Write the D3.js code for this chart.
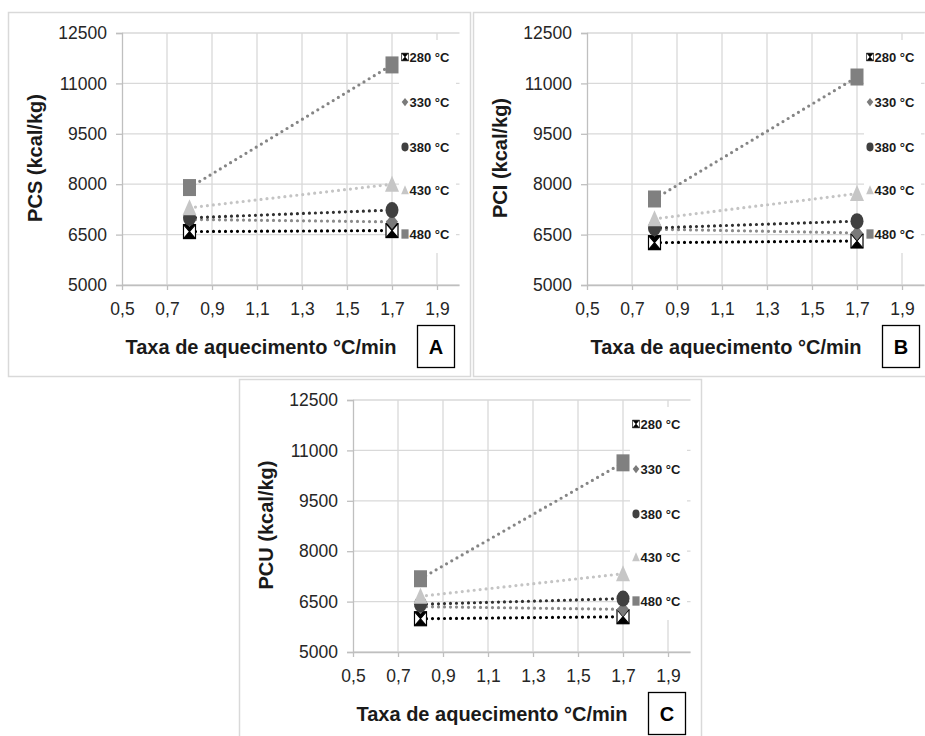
<!DOCTYPE html>
<html><head><meta charset="utf-8">
<script src="https://cdn.jsdelivr.net/npm/d3@7"></script>
<style>
body{margin:0;background:#fff}
svg{display:block;font-family:"Liberation Sans",Arial,sans-serif}
</style>
</head><body>
<svg id="fig" width="925" height="736"></svg>
<script>
// Heating rates (°C/min) and final temperatures
const heatingRates = [0.8, 1.7];
const temperatures = ["280 °C", "330 °C", "380 °C", "430 °C", "480 °C"];
// Calorific values (kcal/kg), one [0.8, 1.7] pair per temperature
const pcsValues = [[6590, 6620], [6950, 6880], [7000, 7230], [7300, 8000], [7900, 11550]];
const pciValues = [[6260, 6310], [6660, 6550], [6700, 6900], [6970, 7720], [7560, 11190]];
const pcuValues = [[5990, 6050], [6350, 6270], [6420, 6590], [6660, 7330], [7180, 10630]];
const yTicks = [5000, 6500, 8000, 9500, 11000, 12500];
const xTicks = [0.5, 0.7, 0.9, 1.1, 1.3, 1.5, 1.7, 1.9];
const panelLetters = ["A", "B", "C"];
const yTitles = ["PCS (kcal/kg)", "PCI (kcal/kg)", "PCU (kcal/kg)"];

const panels = [
  {values: pcsValues, letter: panelLetters[0], title: yTitles[0], dx: 0, dy: 0},
  {values: pciValues, letter: panelLetters[1], title: yTitles[1], dx: 465, dy: 0},
  {values: pcuValues, letter: panelLetters[2], title: yTitles[2], dx: 231, dy: 367}
];

// line colour and marker shape for each temperature
const styles = [
  {line: "#000000", marker: "hourglass"},
  {line: "#8a8a8a", marker: "diamond"},
  {line: "#303030", marker: "circle"},
  {line: "#c4c4c4", marker: "triangle"},
  {line: "#858585", marker: "square"}
];

const svg = d3.select("#fig");
const x = d3.scaleLinear().domain([0.5, 2.0]).range([122, 459.5]);
const y = d3.scaleLinear().domain([5000, 12500]).range([285, 33]);
const grid = "#d9d9d9";

function drawMarker(g, type, cx, cy, s) {
  const m = g.append("g").attr("transform", `translate(${cx},${cy}) scale(${s})`);
  if (type === "square") {
    m.append("rect").attr("x", -6.5).attr("y", -8.5).attr("width", 13).attr("height", 17).attr("fill", "#808080");
  } else if (type === "triangle") {
    m.append("path").attr("d", "M0,-8.5L7,7.5L-7,7.5Z").attr("fill", "#c6c6c6");
  } else if (type === "circle") {
    m.append("ellipse").attr("rx", 6.5).attr("ry", 8).attr("fill", "#404040");
  } else if (type === "diamond") {
    m.append("path").attr("d", "M0,-7.5L6,0L0,7.5L-6,0Z").attr("fill", "#7a7a7a");
  } else {
    m.append("rect").attr("x", -6).attr("y", -7).attr("width", 12).attr("height", 14)
      .attr("fill", "#fff").attr("stroke", "#000").attr("stroke-width", 1.2);
    m.append("path").attr("d", "M-6,-7L6,-7L0,0Z M-6,7L6,7L0,0Z").attr("fill", "#000");
    m.append("path").attr("d", "M-6,-7L6,7 M6,-7L-6,7").attr("stroke", "#000").attr("stroke-width", 1.1);
  }
}

panels.forEach(p => {
  const g = svg.append("g").attr("transform", `translate(${p.dx},${p.dy})`);

  // panel frame
  g.append("rect").attr("x", 8.5).attr("y", 12.5).attr("width", 462).attr("height", 364)
    .attr("fill", "#fff").attr("stroke", "#d9d9d9").attr("stroke-width", 1.5);

  // gridlines
  g.selectAll(".hg").data(yTicks).join("line")
    .attr("x1", x(0.5)).attr("x2", x(2.0)).attr("y1", d => y(d)).attr("y2", d => y(d))
    .attr("stroke", grid).attr("stroke-width", 1.3);
  g.selectAll(".vg").data(xTicks.slice(1)).join("line")
    .attr("x1", d => x(d)).attr("x2", d => x(d)).attr("y1", y(5000)).attr("y2", y(12500))
    .attr("stroke", grid).attr("stroke-width", 1.3);

  // axes
  const ya = g.append("g").attr("transform", `translate(${x(0.5)},0)`)
    .call(d3.axisLeft(y).tickValues(yTicks).tickSize(6).tickPadding(9).tickFormat(d3.format("d")));
  const xa = g.append("g").attr("transform", `translate(0,${y(5000)})`)
    .call(d3.axisBottom(x).tickValues(xTicks).tickSize(5).tickPadding(13)
      .tickFormat(d => d.toFixed(1).replace(".", ",")));
  [ya, xa].forEach(a => {
    a.select(".domain").attr("stroke", "#bfbfbf").attr("stroke-width", 1.3);
    a.selectAll(".tick line").attr("stroke", "#bfbfbf").attr("stroke-width", 1.3);
    a.selectAll(".tick text").attr("fill", "#262626").style("font-size", "17.5px")
      .style("font-family", '"Liberation Sans",Arial,sans-serif');
  });
  xa.select(".domain").attr("d", `M${x(0.5)},0.5H${x(2.0)}`);

  // series: dotted lines then markers
  p.values.forEach((vals, i) => {
    const pts = heatingRates.map((r, j) => [x(r), y(vals[j])]);
    g.append("path").attr("d", d3.line()(pts)).attr("fill", "none")
      .attr("stroke", styles[i].line).attr("stroke-width", 3.2)
      .attr("stroke-linecap", "round").attr("stroke-dasharray", "0 6");
    pts.forEach(pt => drawMarker(g, styles[i].marker, pt[0], pt[1], 1));
  });

  // legend
  g.append("rect").attr("x", 399).attr("y", 40).attr("width", 57).attr("height", 213).attr("fill", "#fff");
  const legendY = [57, 102, 147, 190, 234];
  temperatures.forEach((t, i) => {
    drawMarker(g, styles[i].marker, 405, legendY[i], 0.55);
    g.append("text").attr("x", 409.5).attr("y", legendY[i]).attr("dy", "0.35em")
      .attr("fill", "#1a1a1a").style("font-size", "13px").style("font-weight", "bold").text(t);
  });

  // axis titles
  g.append("text").attr("x", 261).attr("y", 354).attr("text-anchor", "middle")
    .attr("fill", "#1a1a1a").style("font-size", "20px").style("font-weight", "bold")
    .text("Taxa de aquecimento °C/min");
  g.append("text").attr("transform", "translate(42,158) rotate(-90)").attr("text-anchor", "middle")
    .attr("fill", "#1a1a1a").style("font-size", "20px").style("font-weight", "bold")
    .text(p.title);

  // panel letter box
  g.append("rect").attr("x", 417.5).attr("y", 325.5).attr("width", 37).attr("height", 42)
    .attr("fill", "#fff").attr("stroke", "#000").attr("stroke-width", 1.3);
  g.append("text").attr("x", 436).attr("y", 354).attr("text-anchor", "middle")
    .attr("fill", "#000").style("font-size", "20px").style("font-weight", "bold").text(p.letter);
});
</script>
</body></html>
